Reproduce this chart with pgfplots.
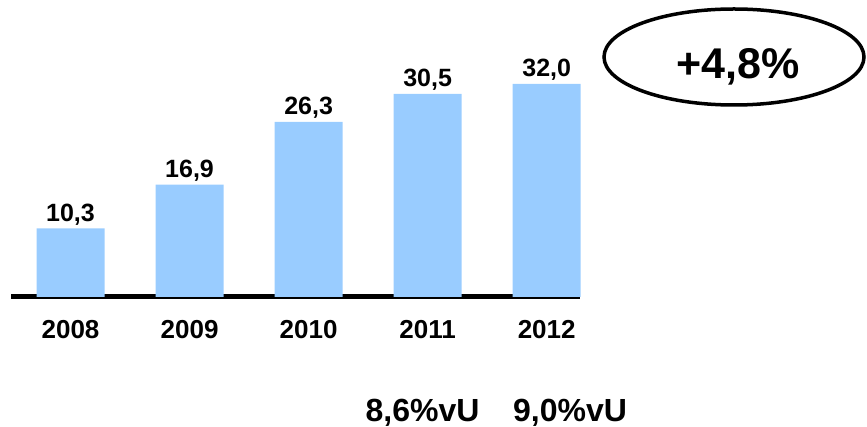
\documentclass[border=0pt]{standalone}
\usepackage{fontspec}
\setmainfont{Liberation Sans}
\usepackage{pgfplots}
\pgfplotsset{compat=1.18}
\definecolor{barblue}{HTML}{99CCFF}
\begin{document}
\begin{tikzpicture}[x=1pt,y=1pt]
\useasboundingbox (0,0) rectangle (867,-427);
\begin{axis}[
  at={(11pt,-297pt)}, anchor=south west,
  scale only axis, width=569pt, height=266.25pt,
  xmin=-0.5, xmax=4.28, ymin=0, ymax=40,
  axis y line=none, axis x line*=bottom,
  x axis line style={line width=5pt, -},
  xtick=data, xticklabels={2008,2009,2010,2011,2012},
  major tick length=0,
  xticklabel style={anchor=base, yshift=-41pt, font=\fontsize{26}{30}\selectfont\bfseries},
  ybar, bar width=68pt,
  nodes near coords,
  nodes near coords style={anchor=base, yshift=7pt, font=\fontsize{25}{30}\selectfont\bfseries},
  /pgf/number format/.cd, fixed, precision=1, fixed zerofill, use comma, assume math mode=true,
  /tikz/.cd,
  clip=false
]
\addplot[fill=barblue, draw=none] coordinates {
  (0,10.3) (1,16.9) (2,26.3) (3,30.5) (4,32.0)
};
\end{axis}
\draw[line width=3.5pt] (734,-57) ellipse [x radius=130, y radius=48];
\node[anchor=base, font=\fontsize{43}{48}\selectfont\bfseries] at (738,-79) {+4,8\%};
\node[anchor=base, font=\fontsize{32}{36}\selectfont\bfseries] at (422.5,-421) {8,6\%vU};
\node[anchor=base, font=\fontsize{32}{36}\selectfont\bfseries] at (570,-421) {9,0\%vU};
\end{tikzpicture}
\end{document}
